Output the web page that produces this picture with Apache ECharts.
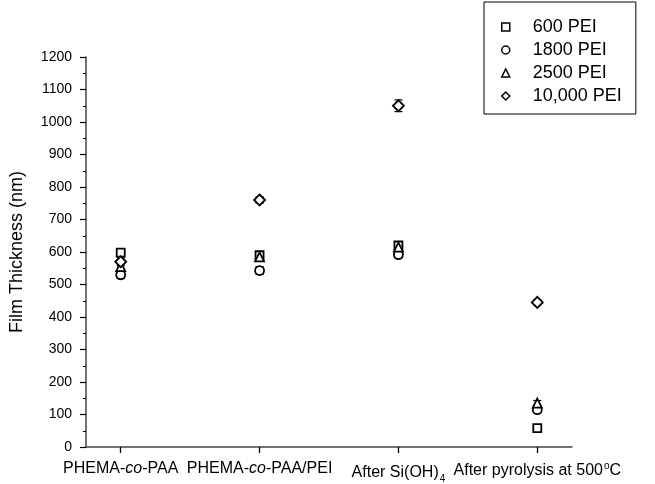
<!DOCTYPE html>
<html><head><meta charset="utf-8">
<script src="https://cdn.jsdelivr.net/npm/echarts@6/dist/echarts.min.js"></script>
<style>html,body{margin:0;padding:0;background:#fff}#c{width:655px;height:484px}</style>
</head><body><div id="c"></div>
<script>
const categories = ['PHEMA-co-PAA', 'PHEMA-co-PAA/PEI', 'After Si(OH)4', 'After pyrolysis at 500°C'];
const seriesNames = ['600 PEI', '1800 PEI', '2500 PEI', '10,000 PEI'];
const pei600 = [598, 590, 620, 58];
const pei1800 = [530, 543, 592, 115];
const pei2500 = [555, 585, 615, 135];
const pei10000 = [570, 760, 1050, 445];
const err600 = [10, 10, 10, 5];
const err1800 = [12, 12, 10, 8];
const err2500 = [10, 10, 10, 8];
const err10000 = [12, 10, 18, 8];
const yTicks = [0, 100, 200, 300, 400, 500, 600, 700, 800, 900, 1000, 1100, 1200];

const values = [pei600, pei1800, pei2500, pei10000];
const errors = [err600, err1800, err2500, err10000];
const symbols = ['rect', 'circle', 'triangle', 'diamond'];
const sizes = [8, 9, 9, 11];

const labelRich = [
  '{n|PHEMA-}{i|co}{n|-PAA}',
  '{n|PHEMA-}{i|co}{n|-PAA/PEI}',
  '{n|After Si(OH)}{sub|4}',
  '{n|After pyrolysis at 500}{sup|o}{n|C}'
];

const chart = echarts.init(document.getElementById('c'), null, {renderer: 'canvas'});
const series = [];
values.forEach((vals, s) => {
  series.push({
    type: 'custom',
    name: seriesNames[s] + '_err',
    silent: true,
    z: 1,
    data: vals.map((v, i) => [i + 1, v - errors[s][i], v + errors[s][i]]),
    renderItem: function (params, api) {
      const x = api.value(0);
      const lo = api.coord([x, api.value(1)]);
      const hi = api.coord([x, api.value(2)]);
      const cw = 4;
      const st = {stroke: '#000', lineWidth: 1.2};
      return {type: 'group', children: [
        {type: 'line', shape: {x1: lo[0], y1: lo[1], x2: hi[0], y2: hi[1]}, style: st},
        {type: 'line', shape: {x1: lo[0] - cw, y1: lo[1], x2: lo[0] + cw, y2: lo[1]}, style: st},
        {type: 'line', shape: {x1: hi[0] - cw, y1: hi[1], x2: hi[0] + cw, y2: hi[1]}, style: st}
      ]};
    }
  });
  series.push({
    type: 'scatter',
    name: seriesNames[s],
    z: 3,
    symbol: symbols[s],
    symbolSize: sizes[s],
    itemStyle: {color: '#fff', borderColor: '#000', borderWidth: 1.8, opacity: 1},
    data: vals.map((v, i) => [i + 1, v])
  });
});

chart.setOption({
  animation: false,
  backgroundColor: '#fff',
  grid: {left: 85, right: 83, top: 57, bottom: 34, containLabel: false},
  legend: {
    data: seriesNames.map((n, k) => ({name: n, icon: symbols[k]})),
    orient: 'vertical',
    left: 484, top: 2,
    width: 160,
    borderColor: '#000', borderWidth: 1, borderRadius: 0,
    padding: [16, 14, 9, 17],
    itemGap: 5,
    itemWidth: 8, itemHeight: 8,
    textStyle: {fontFamily: 'Liberation Sans, Arial', fontSize: 18, color: '#000', padding: [0, 0, 0, 18]},
    itemStyle: {color: '#fff', borderColor: '#000', borderWidth: 1.5}
  },
  xAxis: {
    type: 'value', min: 0.75, max: 4.25,
    splitLine: {show: false},
    axisLine: {show: true, lineStyle: {color: '#444', width: 1.5}},
    axisTick: {show: true, customValues: [1, 2, 3, 4], length: 6, lineStyle: {color: '#000', width: 1.3}},
    minorTick: {show: false},
    axisLabel: {
      customValues: [1, 2, 3, 4],
      margin: 14,
      formatter: v => labelRich[Math.round(v) - 1] || '',
      rich: {
        n: {fontFamily: 'Liberation Sans, Arial', fontSize: 16, color: '#000'},
        i: {fontFamily: 'Liberation Sans, Arial', fontSize: 16, fontStyle: 'italic', color: '#000'},
        sub: {fontFamily: 'Liberation Sans, Arial', fontSize: 10, color: '#000', padding: [13, 0, 0, 1]},
        sup: {fontFamily: 'Liberation Sans, Arial', fontSize: 10, color: '#000', padding: [0, 0, 10, 1]}
      }
    }
  },
  yAxis: {
    type: 'value', min: 0, max: 1200, interval: 100,
    name: 'Film Thickness (nm)',
    nameLocation: 'middle', nameGap: 60, nameRotate: 90,
    nameTextStyle: {fontFamily: 'Liberation Sans, Arial', fontSize: 18, color: '#000'},
    splitLine: {show: false},
    axisLine: {show: true, lineStyle: {color: '#444', width: 1.5}},
    axisTick: {show: true, length: 6, lineStyle: {color: '#000', width: 1.2}},
    minorTick: {show: true, splitNumber: 2, length: 3, lineStyle: {color: '#000', width: 1}},
    axisLabel: {
      customValues: yTicks,
      formatter: v => String(v),
      fontFamily: 'Liberation Sans, Arial', fontSize: 14, color: '#000', margin: 14
    }
  },
  series: series
});
</script></body></html>
